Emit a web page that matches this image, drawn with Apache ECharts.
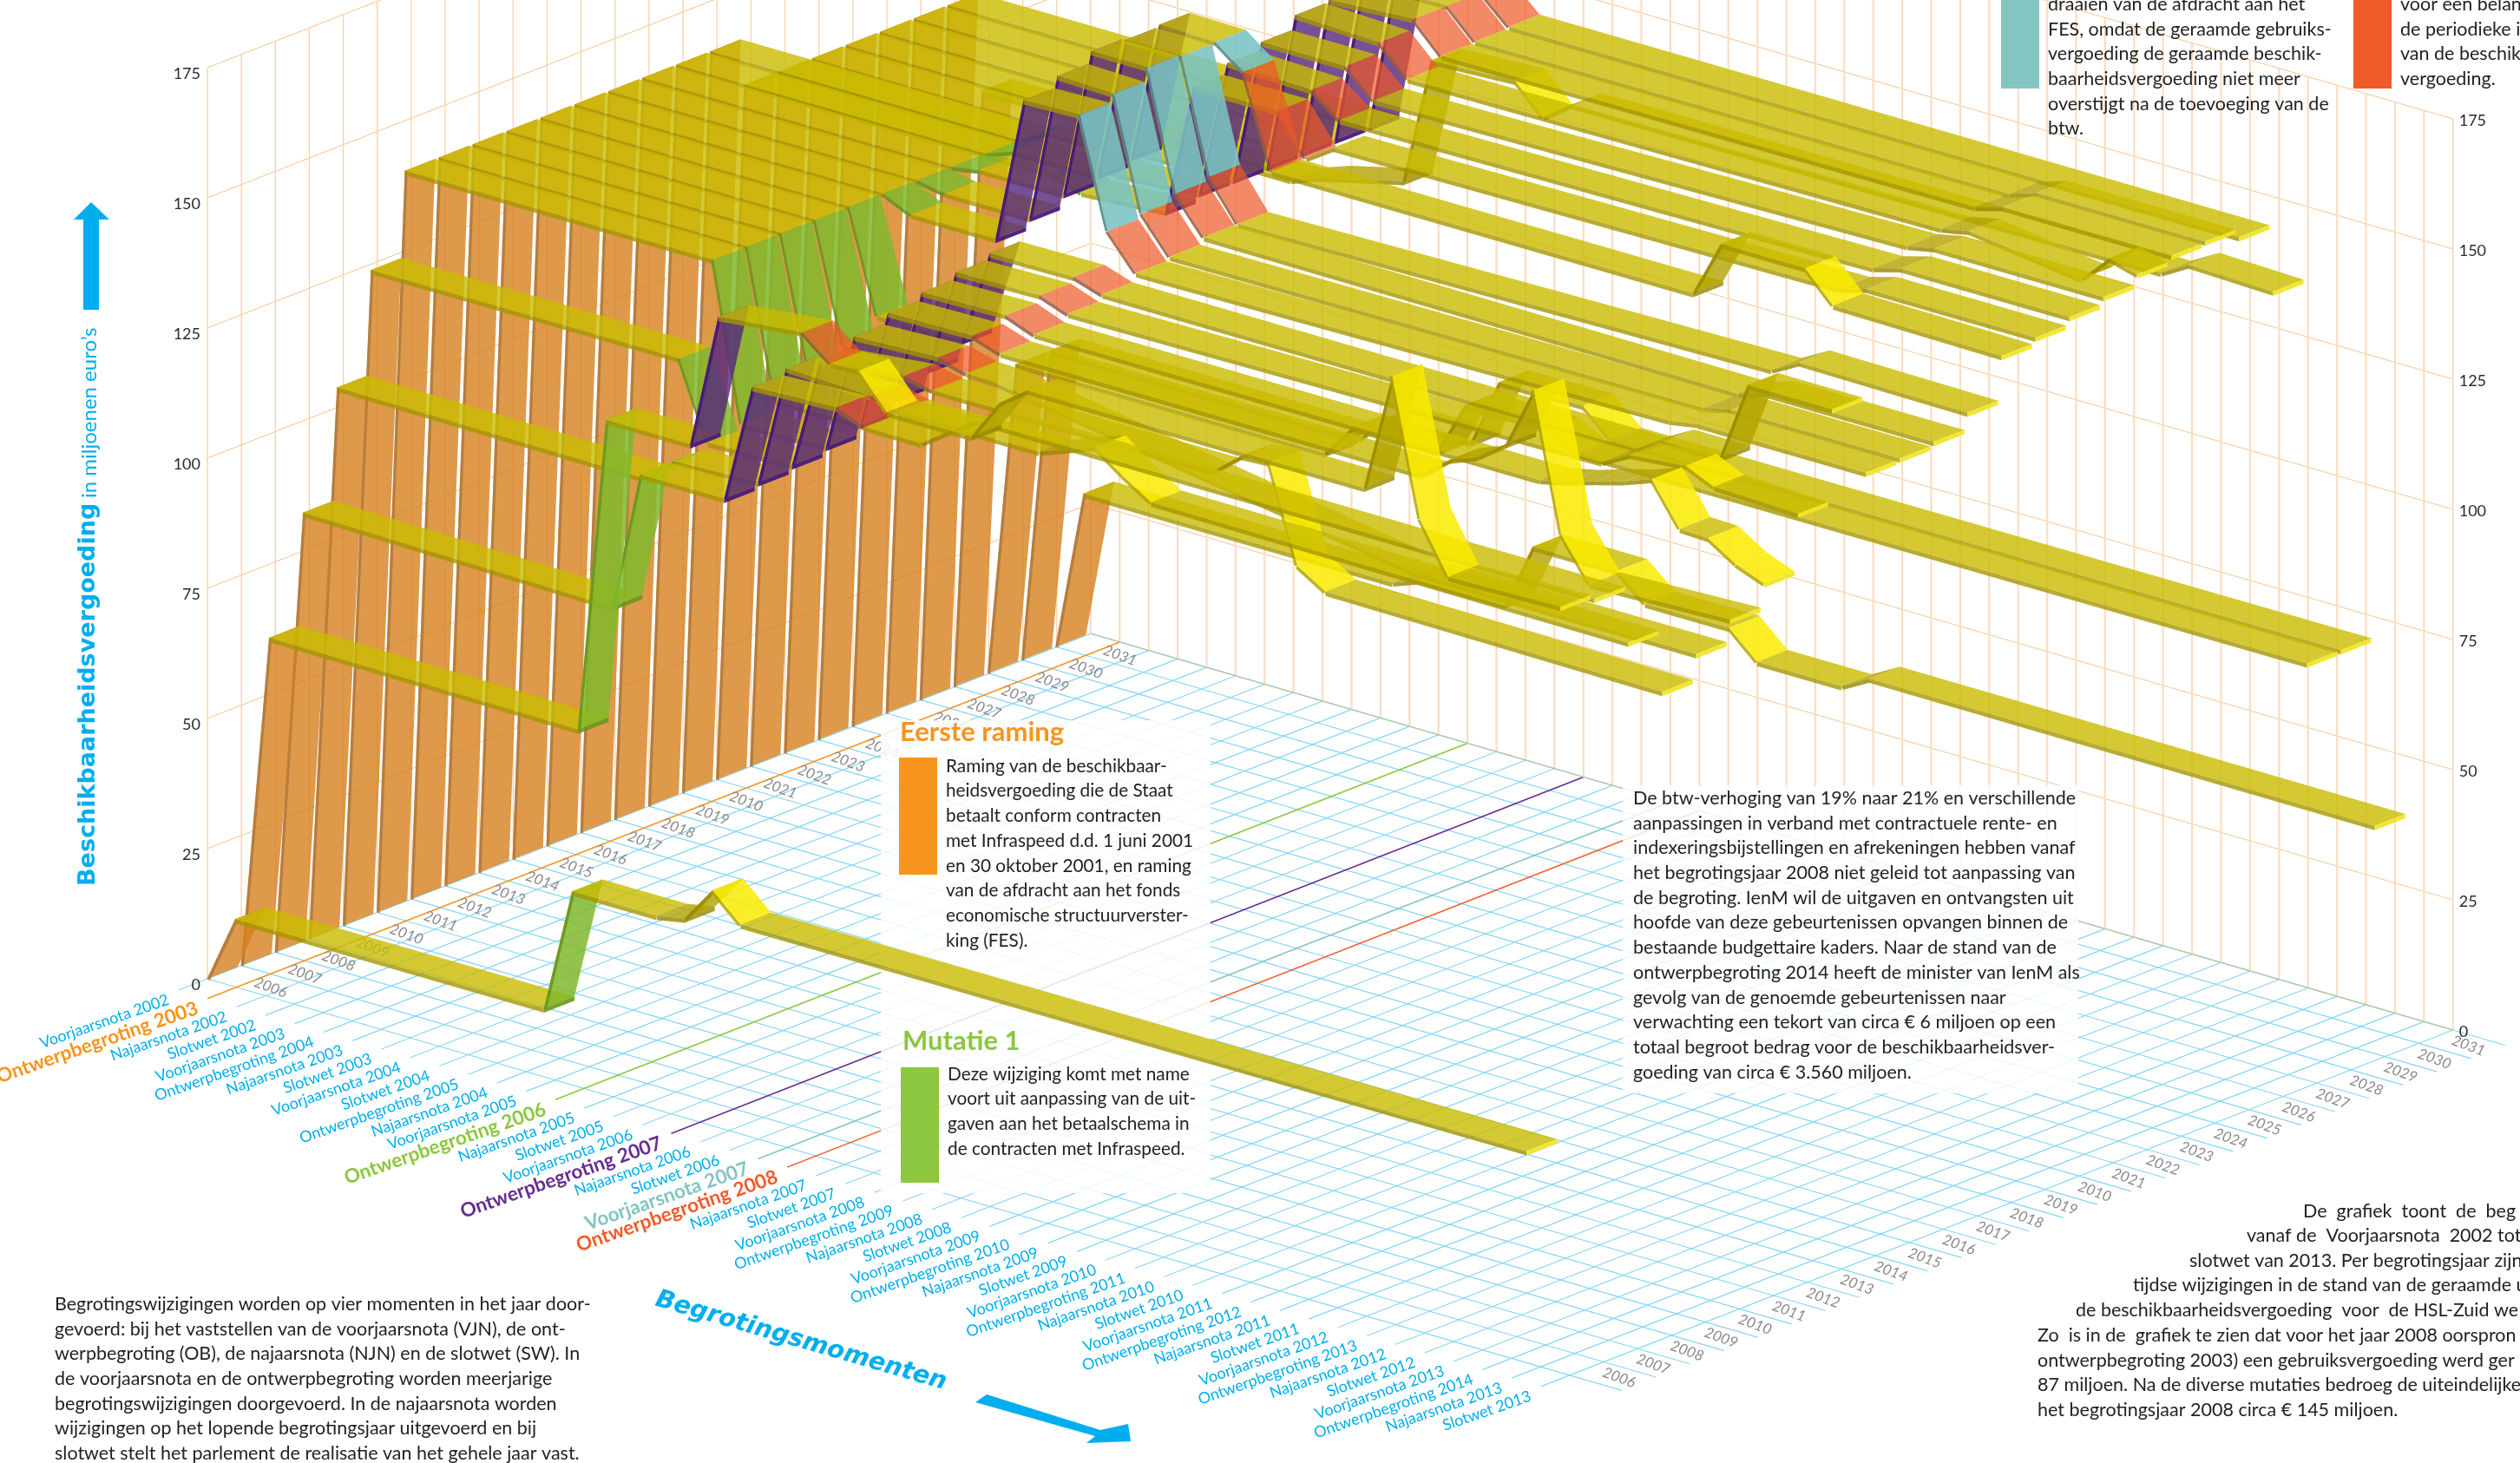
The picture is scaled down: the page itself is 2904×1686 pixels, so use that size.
<!DOCTYPE html>
<html><head><meta charset="utf-8">
<style>html,body{margin:0;padding:0;background:#fff;overflow:hidden}#c{width:2904px;height:1686px}</style>
<script src="https://cdn.jsdelivr.net/npm/echarts@6/dist/echarts.min.js"></script>
</head><body><div id="c"></div>
<script>
// ---------- data: budget moments, year and value ticks ----------
const budgetMoments=["Voorjaarsnota 2002","Ontwerpbegroting 2003","Najaarsnota 2002","Slotwet 2002","Voorjaarsnota 2003","Ontwerpbegroting 2004","Najaarsnota 2003","Slotwet 2003","Voorjaarsnota 2004","Slotwet 2004","Ontwerpbegroting 2005","Najaarsnota 2004","Voorjaarsnota 2005","Ontwerpbegroting 2006","Najaarsnota 2005","Slotwet 2005","Voorjaarsnota 2006","Ontwerpbegroting 2007","Najaarsnota 2006","Slotwet 2006","Voorjaarsnota 2007","Ontwerpbegroting 2008","Najaarsnota 2007","Slotwet 2007","Voorjaarsnota 2008","Ontwerpbegroting 2009","Najaarsnota 2008","Slotwet 2008","Voorjaarsnota 2009","Ontwerpbegroting 2010","Najaarsnota 2009","Slotwet 2009","Voorjaarsnota 2010","Ontwerpbegroting 2011","Najaarsnota 2010","Slotwet 2010","Voorjaarsnota 2011","Ontwerpbegroting 2012","Najaarsnota 2011","Slotwet 2011","Voorjaarsnota 2012","Ontwerpbegroting 2013","Najaarsnota 2012","Slotwet 2012","Voorjaarsnota 2013","Ontwerpbegroting 2014","Najaarsnota 2013","Slotwet 2013"];
const yearTicks=["2006","2007","2008","2009","2010","2011","2012","2013","2014","2015","2016","2017","2018","2019","2010","2021","2022","2023","2024","2025","2026","2027","2028","2029","2030","2031"];
const valueTicks=[0,25,50,75,100,125,150,175];
// per begrotingsjaar: [moment index, miljoen euro] where the estimate changes
const r2006=[[0,0],[1,13],[12,13],[13,37],[16,37],[17,38],[18,45],[19,40],[47,40]];
const r2007=[[0,0],[1,64.5],[12,64],[13,125],[16,125],[17,151],[20,152.7],[21,148.3],[22,148.5],[23,142],[26,142],[27,150],[28,154],[40,154],[41,177],[42,151],[43,141.5],[47,142]];
const r2008=[[0,0],[1,86],[12,85],[13,112],[16,112],[17,135],[20,135.7],[21,133.5],[23,133.5],[24,137.3],[25,141],[47,141]];
const r2009=[[0,0],[1,107.5],[12,107],[13,112],[16,112.6],[17,136],[20,135.3],[21,134],[26,134],[27,136],[28,138],[29,134],[30,130.5],[47,130]];
const r2010=[[0,0],[1,127.5],[12,127.6],[13,113],[16,113.3],[17,135],[20,136.7],[21,135.5],[31,135.5],[32,140],[33,140.3],[34,122],[35,118.6],[47,118]];
const r2011=[[0,0],[1,144],[12,144],[13,114],[16,114.3],[17,137],[20,137.7],[21,136.2],[22,136],[37,122.7],[47,122.7]];
const r2012=[[0,0],[1,144],[12,144],[13,116],[16,116],[17,139],[20,139.3],[21,137.5],[36,137.5],[37,141.9],[38,144],[39,148],[40,160],[41,133.6],[42,125.8],[47,126.8]];
const r2013=[[0,0],[1,144],[12,144],[13,118.5],[16,118.5],[17,140.4],[20,140.7],[21,138.6],[39,138.6],[40,139.8],[41,141.5],[42,143],[43,145],[44,137],[45,136.8],[46,133.3],[47,131.2]];
const r2014=[[0,0],[1,144],[12,144],[13,121.5],[16,121.5],[17,141.7],[20,142],[21,140],[40,141],[41,144],[43,145],[44,142.5],[47,142]];
const r2015=[[0,0],[1,144],[12,144],[13,124.5],[16,124.5],[17,142.8],[20,143],[21,141.2],[40,141],[41,144],[43,144],[44,159.5],[47,159.5]];
const r2016=[[0,0],[1,144],[12,144],[13,141.5],[16,141.5],[17,169.7],[19,170],[20,149.2],[21,142.7],[40,143.9],[41,144.8],[47,144.8]];
const r2017=[[0,0],[1,144],[12,144],[13,143],[16,143],[17,171.8],[19,171.5],[20,150],[21,143.3],[40,143.8],[41,145],[47,145]];
const r2018=[[0,0],[1,144],[12,144],[13,145],[16,145],[17,174],[19,174],[20,151.3],[21,144.5],[40,144],[41,145.6],[47,145.6]];
const r2019=[[0,0],[1,144],[12,144],[13,146],[16,146],[17,173.6],[19,173.6],[20,152],[21,144.5],[40,146],[41,149],[47,148.7]];
const r2020=[[0,0],[1,144],[12,144],[13,147],[16,147],[17,174],[19,173.8],[20,169.6],[21,152],[36,152],[37,163],[40,163],[41,157.4],[47,157]];
const r2021=[[0,0],[1,135],[12,135],[13,133],[16,134],[17,159.5],[20,159.5],[21,152],[22,155.6],[40,156.5],[41,158],[47,158]];
const r2022=[[0,0],[1,135],[12,135],[13,134],[16,135],[17,161.5],[20,161],[21,156.8],[40,157.9],[41,159.4],[47,159.4]];
const r2023=[[0,0],[1,135],[16,135],[17,163],[20,163],[21,158],[40,159.6],[41,160.7],[47,160.7]];
const r2024=[[0,0],[1,135],[16,135],[17,165.6],[20,165],[21,159.6],[40,160.4],[41,161.5],[45,158.5],[46,164],[47,162.5]];
const r2025=[[0,0],[1,135],[16,135],[17,166],[20,167],[21,161.5],[40,162],[41,163.5],[47,163.5]];
const r2026=[[0,0],[1,135],[16,135],[17,167],[20,167],[21,161.7],[40,162],[41,163.7],[47,163.7]];
const r2027=[[0,0],[1,135],[16,135],[17,167],[20,167],[21,162],[47,162]];
const r2028=[[0,0],[1,116],[12,116],[13,118],[16,122],[17,146.7],[20,147.5],[21,142],[22,146],[43,146.4],[44,149.5],[47,149]];
const r2029=[[0,0],[1,61],[12,61],[13,67.5],[16,67.5],[17,78],[20,78],[21,75],[47,75]];
const r2030=[[0,0],[1,61],[12,61],[13,66.7],[16,66.7],[17,79.8],[20,80],[21,75],[47,75]];
const r2031=[[0,0],[1,31],[12,31],[13,33],[16,33],[17,45.7],[20,45.7],[21,41],[24,41],[25,36],[28,36],[29,39],[47,38.7]];
const rows=[r2006,r2007,r2008,r2009,r2010,r2011,r2012,r2013,r2014,r2015,r2016,r2017,r2018,r2019,r2020,r2021,r2022,r2023,r2024,r2025,r2026,r2027,r2028,r2029,r2030,r2031];
// ---------- projection of the 3D chart onto the hidden pixel axes ----------
const GRID={x0:239,mx:33.4,yx:39.15,y0:1128,my:9.72,yy:15.3,vy:6};
const RIB={x0:238.65,mx:32.35,yx:39.1,y0:1128,my:9.33,yy:15.3,vy:6};
const RIB_W=0.9,TH=5,TH_STEEP=3.2;
const proj=(s,m,y,v)=>[s.x0+s.mx*m+s.yx*y,s.y0+s.my*m-s.yy*y-s.vy*v];
const MUT={1:'#F7941D',13:'#8DC63F',17:'#662D91',20:'#84C5C1',21:'#F15A29'};
const BLUE='#00AEEF';
const C={orange:['rgba(214,128,30,0.80)','rgba(165,115,60,0.72)'],green:['rgba(128,185,45,0.85)','rgba(105,150,30,0.9)'],
 purple:['rgba(84,38,125,0.80)','rgba(72,25,120,0.95)'],teal:['rgba(122,195,195,0.88)','rgba(90,140,135,0.9)'],
 red:['rgba(238,88,38,0.70)','rgba(150,90,60,0.85)'],flat:['rgba(201,187,0,0.80)','rgba(165,150,0,0.80)'],
 rise:['rgba(178,163,0,0.80)','rgba(150,135,0,0.80)'],drop:['rgba(250,235,0,0.85)','rgba(180,165,0,0.85)']};
function kindOf(row,m0,m1,v0,v1){
 if(m0===0)return 'orange';
 if(m0===12&&row<=15)return 'green';
 if(m0===16&&row>=1&&row<=21)return 'purple';
 if(m0===19&&row>=10&&row<=14)return 'teal';
 if(m0===20&&row>=1&&row<=21)return 'red';
 const d=v1-v0,s=d/(m1-m0);
 if(Math.abs(s)<1)return 'flat';
 if(d>0)return 'rise';
 return d<-2?'drop':'flat';
}
// ---------- derived tables ----------
const segments=[];
for(let r=rows.length-1;r>=0;r--){const p=rows[r];for(let i=0;i+1<p.length;i++)segments.push([r,p[i][0],p[i][1],p[i+1][0],p[i+1][1],i+2===p.length?1:0]);}
const lines=[]; // m0,y0,v0,m1,y1,v1,style
valueTicks.forEach(v=>{if(v>0){lines.push([0,0,v,0,26,v,0]);lines.push([0,26,v,47,26,v,0]);}});
for(let y=0;y<=26;y++)lines.push([0,y,0,0,y,175,1]);
for(let m=0;m<=47;m++)lines.push([m,26,0,m,26,175,2]);
for(let y=0;y<=26;y++)lines.push([0,y,0,48.8,y,0,3]);
for(let m=0;m<=47;m++)lines.push([m,-0.85,0,m,26,0,MUT[m]?10+m:3]);
lines.push([0,26,0,47,26,0,4]);
const lineStyles={0:['#FBC998',1.1],1:['#FCD0A6',1.3],2:['#FDDCC2',2.2],3:['#86D6F6',1.2],4:['#B9C7A8',1.4]};
const labelRows=[];
budgetMoments.forEach((t,i)=>labelRows.push([0,i]));
yearTicks.forEach((t,i)=>{labelRows.push([1,i]);labelRows.push([2,i]);});
valueTicks.forEach((t,i)=>{labelRows.push([3,i]);labelRows.push([4,i]);});

const ROT_Y=0.335, ROT_M=-Math.atan2(GRID.my,GRID.mx)*1.25;
function P(api,pt){return api.coord(pt);}
function renderLine(par,api){
 const a=P(api,proj(GRID,api.value(0),api.value(1),api.value(2))),b=P(api,proj(GRID,api.value(3),api.value(4),api.value(5)));
 const st=api.value(6);const ls=st>=10?[MUT[st-10],1.6]:lineStyles[st];
 return {type:'line',shape:{x1:a[0],y1:a[1],x2:b[0],y2:b[1]},style:{stroke:ls[0],lineWidth:ls[1]},silent:true};
}
function renderLabel(par,api){
 const k=api.value(0),i=api.value(1);
 if(k===0){
  const a=P(api,proj(GRID,i,-1.15,0));const hi=MUT[i];
  return {type:'text',x:a[0],y:a[1]+6,rotation:ROT_Y,style:{text:budgetMoments[i],textAlign:'right',textVerticalAlign:'middle',fill:hi||BLUE,font:(hi?'bold 22.5px':'18px')+' Lato, sans-serif'}};
 }
 if(k===1||k===2){
  const a=P(api,k===1?proj(GRID,1.69,i+0.42,0):proj(GRID,48.1,i+0.52,0));
  return {type:'text',x:a[0],y:a[1],rotation:ROT_M,style:{text:yearTicks[i],textAlign:'center',textVerticalAlign:'middle',fill:'#8a8a8a',font:'italic 17px Lato, sans-serif'}};
 }
 const v=valueTicks[i];
 const a=P(api,k===3?proj(GRID,0,0,v):proj(GRID,47,26,v));
 return {type:'text',x:a[0]+(k===3?-8:7),y:a[1]+(k===3?7:2),style:{text:String(v),textAlign:k===3?'right':'left',textVerticalAlign:'middle',fill:'#2b2b2b',font:'18px Lato, sans-serif'}};
}
function renderSeg(par,api){
 const r=api.value(0),m0=api.value(1),v0=api.value(2),m1=api.value(3),v1=api.value(4),last=api.value(5);
 const c=C[kindOf(r,m0,m1,v0,v1)];
 const a=P(api,proj(RIB,m0,r,v0)),b=P(api,proj(RIB,m1,r,v1)),
       d=P(api,proj(RIB,m0,r+RIB_W,v0)),e=P(api,proj(RIB,m1,r+RIB_W,v1));
 const tm=RIB.mx*(m1-m0)*1.04,tv=RIB.vy*(v1-v0),len=Math.hypot(tm,tv)||1;
 const nm=tv/len,nv=-tm/len; // below-surface normal in the (moment, value) plane
 const th=TH+(TH_STEEP-TH)*Math.abs(nm);
 const off=[nm*th,nm*th*RIB.my/RIB.mx-nv*th];
 const kids=[{type:'polygon',shape:{points:[a,b,e,d]},style:{fill:c[0]}},
  {type:'polygon',shape:{points:[a,b,[b[0]+off[0],b[1]+off[1]],[a[0]+off[0],a[1]+off[1]]]},style:{fill:c[1]}}];
 if(v1-v0>6&&m0>0)kids.push({type:'polygon',shape:{points:[a,d,[d[0],d[1]+TH],[a[0],a[1]+TH]]},style:{fill:c[1]}});
 if(last)kids.push({type:'polygon',shape:{points:[b,e,[e[0],e[1]+TH],[b[0],b[1]+TH]]},style:{fill:'rgba(240,230,40,0.95)'}});
 return {type:'group',children:kids,silent:true};
}
// ---------- page text ----------
const F='Lato, sans-serif';
function block(x,yc,text,font,fill,lh){return {type:'text',x:x,y:yc-(lh||28.7)/2,z:50,silent:true,style:{text:text,font:font||('21.5px '+F),fill:fill||'#222',lineHeight:lh||28.7,textVerticalAlign:'top'}};}
function rect(x,y,w,h,fill,z,op){return {type:'rect',z:z||40,silent:true,shape:{x:x,y:y,width:w,height:h},style:{fill:fill,opacity:op==null?1:op}};}
const graphics=[
 rect(1015,830,380,545,'#fff',20,0.86),
 rect(1870,905,525,355,'#fff',20,0.82),
 block(63,1503,"Begrotingswijzigingen worden op vier momenten in het jaar door-\ngevoerd: bij het vaststellen van de voorjaarsnota (VJN), de ont-\nwerpbegroting (OB), de najaarsnota (NJN) en de slotwet (SW). In\nde voorjaarsnota en de ontwerpbegroting worden meerjarige\nbegrotingswijzigingen doorgevoerd. In de najaarsnota worden\nwijzigingen op het lopende begrotingsjaar uitgevoerd en bij\nslotwet stelt het parlement de realisatie van het gehele jaar vast."),
 block(1037,844,"Eerste raming",'bold 31px '+F,'#F7941D',36),
 rect(1036,873,44,135,'#F7941D'),
 block(1090,883,"Raming van de beschikbaar-\nheidsvergoeding die de Staat\nbetaalt conform contracten\nmet Infraspeed d.d. 1 juni 2001\nen 30 oktober 2001, en raming\nvan de afdracht aan het fonds\neconomische structuurverster-\nking (FES).",'20.8px '+F),
 block(1040,1200,"Mutatie 1",'bold 31px '+F,'#8DC63F',36),
 rect(1038,1230,44,133,'#8DC63F'),
 block(1092,1238,"Deze wijziging komt met name\nvoort uit aanpassing van de uit-\ngaven aan het betaalschema in\nde contracten met Infraspeed.",'20.8px '+F),
 block(1882,920,"De btw-verhoging van 19% naar 21% en verschillende\naanpassingen in verband met contractuele rente- en\nindexeringsbijstellingen en afrekeningen hebben vanaf\nhet begrotingsjaar 2008 niet geleid tot aanpassing van\nde begroting. IenM wil de uitgaven en ontvangsten uit\nhoofde van deze gebeurtenissen opvangen binnen de\nbestaande budgettaire kaders. Naar de stand van de\nontwerpbegroting 2014 heeft de minister van IenM als\ngevolg van de genoemde gebeurtenissen naar\nverwachting een tekort van circa € 6 miljoen op een\ntotaal begroot bedrag voor de beschikbaarheidsver-\ngoeding van circa € 3.560 miljoen."),
 block(2654,1396,"De  grafiek  toont  de  beg"),
 block(2589,1424,"vanaf de  Voorjaarsnota  2002 tot"),
 block(2523,1453,"slotwet van 2013. Per begrotingsjaar zijn"),
 block(2458,1481,"tijdse wijzigingen in de stand van de geraamde u"),
 block(2392,1510,"de beschikbaarheidsvergoeding  voor  de HSL-Zuid we"),
 block(2348,1539,"Zo  is in de  grafiek te zien dat voor het jaar 2008 oorspron\nontwerpbegroting 2003) een gebruiksvergoeding werd ger\n87 miljoen. Na de diverse mutaties bedroeg de uiteindelijke r\nhet begrotingsjaar 2008 circa € 145 miljoen."),
 rect(2306,0,44,102,'#84C5C1'),
 block(2360,5,"draaien van de afdracht aan het\nFES, omdat de geraamde gebruiks-\nvergoeding de geraamde beschik-\nbaarheidsvergoeding niet meer\noverstijgt na de toevoeging van de\nbtw."),
 rect(2712,0,44,102,'#F15A29'),
 block(2766,5,"voor een belan\nde periodieke i\nvan de beschik\nvergoeding."),
 {type:'text',x:102,y:1021,z:50,rotation:Math.PI/2,silent:true,style:{text:"Beschikbaarheidsvergoeding",font:'bold 27px "DejaVu Sans", sans-serif',fill:BLUE,textVerticalAlign:'middle',textAlign:'left'}},
 {type:'text',x:103,y:574,z:50,rotation:Math.PI/2,silent:true,style:{text:"in miljoenen euro’s",font:'24px '+F,fill:BLUE,textVerticalAlign:'middle',textAlign:'left'}},
 {type:'polygon',z:50,silent:true,shape:{points:[[96,357],[114,357],[114,253],[126,253],[105,233],[85,253],[96,253]]},style:{fill:BLUE}},
 {type:'text',x:756,y:1497,z:50,rotation:-0.283,silent:true,style:{text:"Begrotingsmomenten",font:'italic bold 28.5px "DejaVu Sans", sans-serif',fill:BLUE,textVerticalAlign:'middle',textAlign:'left'}},
 {type:'polygon',z:50,silent:true,shape:{points:[[1137,1607],[1268,1648],[1300,1641],[1303,1661],[1252,1663],[1262,1655],[1124,1616]]},style:{fill:BLUE}}
];
const chart=echarts.init(document.getElementById('c'),null,{renderer:'canvas'});
chart.setOption({animation:false,backgroundColor:'#fff',
 grid:{left:0,right:0,top:0,bottom:0},
 xAxis:{type:'value',min:0,max:2904,show:false},
 yAxis:{type:'value',min:0,max:1686,inverse:true,show:false},
 tooltip:{show:false},
 graphic:{elements:graphics},
 series:[
  {type:'custom',z:1,silent:true,clip:false,data:lines,renderItem:renderLine,progressive:0},
  {type:'custom',z:2,silent:true,clip:false,data:labelRows,renderItem:renderLabel,progressive:0},
  {type:'custom',z:30,silent:true,clip:false,data:segments,renderItem:renderSeg,progressive:0}
 ]});
</script></body></html>
